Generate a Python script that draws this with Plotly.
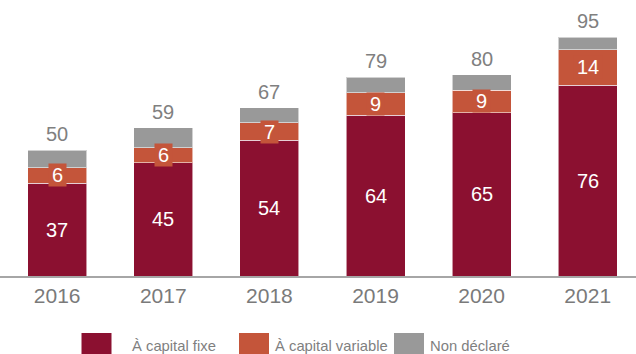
import plotly.graph_objects as go

years = ["2016", "2017", "2018", "2019", "2020", "2021"]
fixe = [37, 45, 54, 64, 65, 76]
variable = [6, 6, 7, 9, 9, 14]
non_declare = [7, 8, 6, 6, 6, 5]
totals = [50, 59, 67, 79, 80, 95]
series_names = ["À capital fixe", "À capital variable", "Non déclaré"]

C_FIXE = "#8B1030"
C_VAR = "#C4553A"
C_ND = "#999999"
FONT = "Liberation Sans, Arial, sans-serif"

W, H = 636, 354
ML, MR, MT, MB = 0, 0, 10, 78
PH = H - MT - MB

fig = go.Figure()
line = dict(color="rgba(255,255,255,0.55)", width=1)
fig.add_trace(go.Bar(x=years, y=fixe, marker=dict(color=C_FIXE, line=line), name=series_names[0]))
fig.add_trace(go.Bar(x=years, y=variable, marker=dict(color=C_VAR, line=line), name=series_names[1]))
fig.add_trace(go.Bar(x=years, y=non_declare, marker=dict(color=C_ND, line=line), name=series_names[2]))

ann = []
for i, y in enumerate(years):
    ann.append(dict(xref="x", yref="y", x=i, y=fixe[i] / 2, text=str(fixe[i]), showarrow=False,
                    font=dict(family=FONT, size=20, color="white")))
    lbl = str(variable[i])
    ann.append(dict(xref="x", yref="y", x=i, y=fixe[i] + variable[i] / 2, text=lbl,
                    showarrow=False, font=dict(family=FONT, size=20, color="white"),
                    bgcolor=C_VAR, borderpad=1, height=20, width=15 if len(lbl) == 1 else 26))
    ann.append(dict(xref="x", yref="y", x=i, y=totals[i], text=str(totals[i]), showarrow=False,
                    yshift=16, font=dict(family=FONT, size=20, color="#808080")))

def py(p):
    return (H - MB - p) / PH

legend_items = [(81.5, 129.5, C_FIXE), (239, 273, C_VAR), (394, 428, C_ND)]
shapes = []
for (sx, tx, col), name in zip(legend_items, series_names):
    shapes.append(dict(type="rect", xref="paper", yref="paper",
                       x0=sx / W, x1=(sx + 30) / W, y0=py(356), y1=py(333),
                       fillcolor=col, line=dict(width=0)))
    ann.append(dict(xref="paper", yref="paper", x=tx / W, y=py(346), text=name,
                    showarrow=False, xanchor="left", yanchor="middle",
                    font=dict(family=FONT, size=14.8, color="#7f7f7f")))

fig.update_layout(
    barmode="stack", bargap=0.444, showlegend=False,
    width=W, height=H, margin=dict(l=ML, r=MR, t=MT, b=MB),
    paper_bgcolor="white", plot_bgcolor="white",
    annotations=ann, shapes=shapes,
    xaxis=dict(type="category", range=[-0.539, 5.455], showline=True,
               linecolor="#A6A6A6", linewidth=2, ticks="", showgrid=False,
               tickfont=dict(family=FONT, size=21, color="#7a7a7a")),
    yaxis=dict(range=[0, PH / 2.513], visible=False, showgrid=False),
)
fig.write_html("out.html")
